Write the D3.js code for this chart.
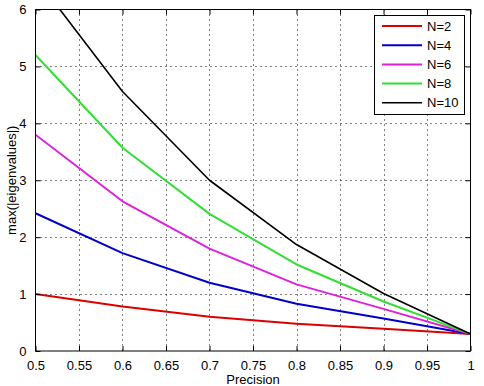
<!DOCTYPE html>
<html>
<head>
<meta charset="utf-8">
<script src="https://cdn.jsdelivr.net/npm/d3@7"></script>
<style>
  html, body { margin: 0; padding: 0; background: #fff; }
  svg { display: block; font-family: "Liberation Sans", Arial, sans-serif; }
</style>
</head>
<body>
<svg id="chart" width="484" height="386"></svg>
<script>
// ---- data ----
const precision = [0.5, 0.6, 0.7, 0.8, 0.9, 1.0];
const seriesNames = ["N=2", "N=4", "N=6", "N=8", "N=10"];
const n2  = [1.00, 0.78, 0.60, 0.48, 0.39, 0.30];
const n4  = [2.42, 1.72, 1.20, 0.83, 0.57, 0.30];
const n6  = [3.80, 2.63, 1.80, 1.17, 0.74, 0.30];
const n8  = [5.20, 3.57, 2.41, 1.52, 0.87, 0.30];
const n10 = [6.56, 4.56, 3.00, 1.87, 1.01, 0.30];
const seriesValues = [n2, n4, n6, n8, n10];
const seriesColors = ["#dd0000", "#0000cc", "#dd22dd", "#33dd33", "#000000"];
const seriesWidths = [2, 2, 2, 2, 1.6];
const xTicks = [0.5, 0.55, 0.6, 0.65, 0.7, 0.75, 0.8, 0.85, 0.9, 0.95, 1];
const yTicks = [0, 1, 2, 3, 4, 5, 6];

// ---- layout ----
const svg = d3.select("#chart");
const L = 35.5, R = 470.5, T = 9.5, B = 351;
const x = d3.scaleLinear().domain([0.5, 1]).range([L, R]);
const y = d3.scaleLinear().domain([0, 6]).range([B, T]);

svg.append("defs").append("clipPath").attr("id", "clip")
  .append("rect").attr("x", L).attr("y", T).attr("width", R - L).attr("height", B - T);

// grid
const grid = svg.append("g").attr("stroke", "#000").attr("stroke-width", 1)
  .attr("stroke-dasharray", "1,4").attr("fill", "none");
xTicks.slice(1, -1).forEach(t => {
  grid.append("line").attr("x1", Math.round(x(t)) + 0.5).attr("x2", Math.round(x(t)) + 0.5)
    .attr("y1", T).attr("y2", B);
});
yTicks.slice(1, -1).forEach(t => {
  grid.append("line").attr("y1", Math.round(y(t)) + 0.5).attr("y2", Math.round(y(t)) + 0.5)
    .attr("x1", L).attr("x2", R);
});

// lines
const line = d3.line().x((d, i) => x(precision[i])).y(d => y(d));
const lines = svg.append("g").attr("clip-path", "url(#clip)");
seriesValues.forEach((vals, k) => {
  lines.append("path").datum(vals).attr("d", line)
    .attr("fill", "none").attr("stroke", seriesColors[k])
    .attr("stroke-width", seriesWidths[k]).attr("stroke-linejoin", "round");
});

// axes (inside ticks, box)
const fmt = d => d3.format("")(d);
const xAxisB = d3.axisBottom(x).tickValues(xTicks).tickSize(-5).tickPadding(10).tickFormat(d => String(d));
const xAxisT = d3.axisTop(x).tickValues(xTicks).tickSize(-5).tickFormat("");
const yAxisL = d3.axisLeft(y).tickValues(yTicks).tickSize(-5).tickPadding(9).tickFormat(d => String(d));
const yAxisR = d3.axisRight(y).tickValues(yTicks).tickSize(-5).tickFormat("");

function style(g) {
  g.select(".domain").remove();
  g.selectAll("line").attr("stroke", "#000");
  g.selectAll("text").attr("fill", "#000").attr("font-size", 13)
    .attr("font-family", "'Liberation Sans', Arial, sans-serif");
}
svg.append("g").attr("transform", `translate(0,${B})`).call(xAxisB).call(style);
svg.append("g").attr("transform", `translate(0,${T})`).call(xAxisT).call(style);
svg.append("g").attr("transform", `translate(${L},0)`).call(yAxisL).call(style);
svg.append("g").attr("transform", `translate(${R},0)`).call(yAxisR).call(style);

svg.append("rect").attr("x", L).attr("y", T).attr("width", R - L).attr("height", B - T)
  .attr("fill", "none").attr("stroke", "#000").attr("stroke-width", 1);

// axis labels
svg.append("text").attr("x", (L + R) / 2).attr("y", 384).attr("text-anchor", "middle")
  .attr("font-size", 13).text("Precision");
svg.append("text").attr("transform", `translate(16,${(T + B) / 2}) rotate(-90)`)
  .attr("text-anchor", "middle").attr("font-size", 13).text("max(|eigenvalues|)");

// legend
const lg = svg.append("g");
lg.append("rect").attr("x", 374.5).attr("y", 15.5).attr("width", 90).attr("height", 99)
  .attr("fill", "#fff").attr("stroke", "#000").attr("stroke-width", 1);
seriesNames.forEach((name, k) => {
  const yy = 26 + k * 19.2;
  lg.append("line").attr("x1", 382).attr("x2", 422).attr("y1", yy).attr("y2", yy)
    .attr("stroke", seriesColors[k]).attr("stroke-width", seriesWidths[k]);
  lg.append("text").attr("x", 427).attr("y", yy).attr("dy", "0.35em")
    .attr("font-size", 13).attr("fill", "#000").text(name);
});
</script>
</body>
</html>
